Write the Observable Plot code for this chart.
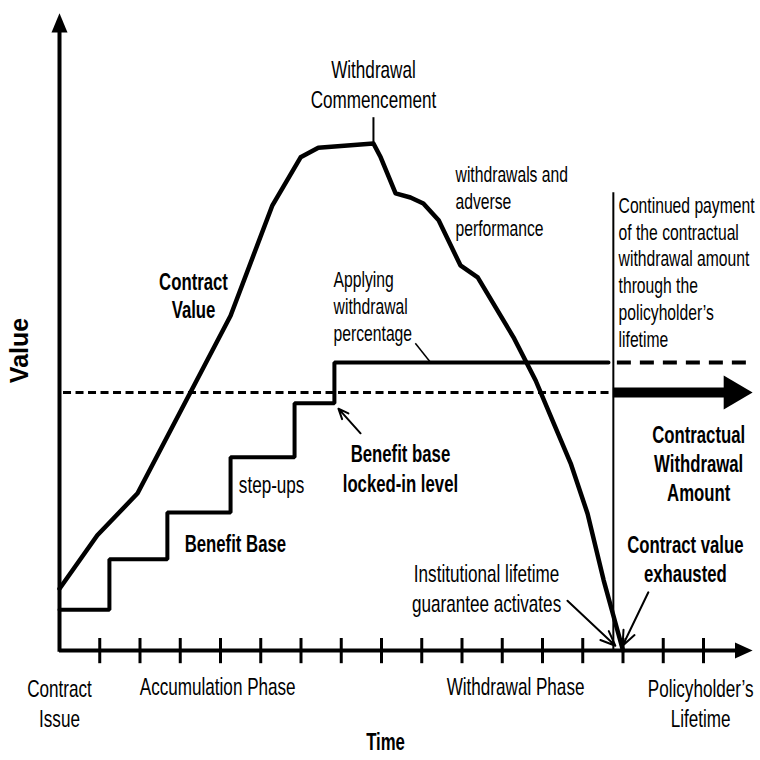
<!DOCTYPE html>
<html><head><meta charset="utf-8">
<script src="https://cdn.jsdelivr.net/npm/d3@7"></script>
<script src="https://cdn.jsdelivr.net/npm/@observablehq/plot@0.6"></script>
<style>html,body{margin:0;padding:0;background:#fff;} #chart{width:760px;height:760px;}</style>
</head><body><div id="chart"></div>
<script>
// Time in tick units (axis origin = 0, tick marks 1..16); Value in arbitrary units (0 = time axis)
const contractT = [0, 0.94, 1.94, 4.25, 5.29, 5.99, 6.43, 7.80, 7.98, 8.35, 8.72, 9.04, 9.42, 9.96, 10.39, 11.28, 11.83, 12.25, 12.70, 13.12, 13.52, 14.0];
const contractV = [10.3, 19.2, 26.2, 55.8, 74.2, 82.2, 83.8, 84.5, 82.2, 76.2, 75.5, 74.5, 71.7, 64.2, 62.2, 52.2, 45.0, 38.3, 31.2, 22.8, 11.7, 0];
const baseT = [0, 1.24, 2.68, 4.25, 5.84, 6.83, 13.64];
const baseV = [6.8, 15.2, 23.0, 32.2, 41.2, 48.0, 48.0];
const tickT = [1, 2, 3, 4, 5, 6, 7, 8, 9, 10, 11, 12, 13, 14, 15, 16];
const lockedLevel = 48;          // benefit base locked-in level
const cwaLevel = 43;             // contractual withdrawal amount
const commencementT = 7.8;       // withdrawal commencement
const lifetimeT = 13.76;         // start of lifetime payments
const axisEndT = 17.22, axisTopV = 106.2;

const regularCentered = [
  {text: "Withdrawal\nCommencement", t: 7.8, v: 94.5},
  {text: "Contract\nIssue", t: 0, v: -8.7},
  {text: "Policyholder’s\nLifetime", t: 15.93, v: -8.7},
  {text: "Institutional lifetime\nguarantee activates", t: 10.61, v: 10.5}
];
const regularSingle = [
  {text: "Accumulation Phase", t: 3.93, v: -6.2},
  {text: "Withdrawal Phase", t: 11.33, v: -6.2},
  {text: "step-ups", t: 5.27, v: 27.5}
];
const regularLeft = [
  {text: "withdrawals and\nadverse\nperformance", t: 9.84, v: 75},
  {text: "Applying\nwithdrawal\npercentage", t: 6.81, v: 57.5},
  {text: "Continued payment\nof the contractual\nwithdrawal amount\nthrough the\npolicyholder’s\nlifetime", t: 13.89, v: 63.2}
];
const boldCentered = [
  {text: "Contract\nValue", t: 3.33, v: 59.3},
  {text: "Benefit Base", t: 4.37, v: 18},
  {text: "Contractual\nWithdrawal\nAmount", t: 15.88, v: 31.3},
  {text: "Contract value\nexhausted", t: 15.55, v: 15.4},
  {text: "Time", t: 8.1, v: -15}
];
const boldLocked = [{text: "Benefit base\nlocked-in level", t: 8.47, v: 30.5}];
const pointerArrows = [
  {t1: 7.48, v1: 36.2, t2: 6.93, v2: 40.3},
  {t1: 12.62, v1: 8.3, t2: 13.81, v2: 0.8},
  {t1: 14.63, v1: 9.7, t2: 13.99, v2: 0.8}
];
const pointerLine = [{t1: 8.84, v1: 51.2, t2: 9.22, v2: 48}];

const contract = contractT.map((t, i) => ({t, v: contractV[i]}));
const base = baseT.map((t, i) => ({t, v: baseV[i]}));

const sans = "'Liberation Sans', Arial, Helvetica, sans-serif";
function headSymbol(ratio) {
  return {draw(ctx, size) {
    const r = Math.sqrt(size / Math.PI);
    ctx.moveTo(0, 0); ctx.lineTo(-ratio * r, -r); ctx.lineTo(-ratio * r, r); ctx.closePath();
  }};
}

const chart = Plot.plot({
  width: 760, height: 760, margin: 0,
  x: {domain: [0, 16], range: [59, 703], axis: null},
  y: {domain: [0, 100], range: [650, 50], axis: null},
  style: {background: "white", overflow: "visible"},
  marks: [
    Plot.ruleY([cwaLevel], {x1: 0.1, x2: 13.69, strokeWidth: 3, strokeDasharray: "8,4.5"}),
    Plot.ruleY([lockedLevel], {x1: 13.86, x2: 17.17, strokeWidth: 4, strokeDasharray: "14,9"}),
    Plot.ruleY([cwaLevel], {x1: lifetimeT, x2: 16.7, strokeWidth: 10}),
    Plot.dot([{t: axisEndT, v: cwaLevel}], {x: "t", y: "v", symbol: headSymbol(1.7), r: 17, fill: "black", stroke: null}),
    Plot.ruleX([lifetimeT], {y1: 0, y2: 76.3, strokeWidth: 2}),
    Plot.ruleX([commencementT], {y1: 84.5, y2: 88.8, strokeWidth: 2}),
    Plot.line(base, {x: "t", y: "v", curve: "step-after", strokeWidth: 4, strokeLinejoin: "miter"}),
    Plot.line(contract, {x: "t", y: "v", strokeWidth: 4.5, strokeLinejoin: "round"}),
    Plot.link(pointerLine, {x1: "t1", y1: "v1", x2: "t2", y2: "v2", strokeWidth: 1.5}),
    Plot.arrow(pointerArrows, {x1: "t1", y1: "v1", x2: "t2", y2: "v2", strokeWidth: 2, headLength: 12, headAngle: 45}),
    Plot.ruleX([0], {y1: -0.3, y2: 103, strokeWidth: 4}),
    Plot.ruleY([0], {x1: 0, x2: 17.0, strokeWidth: 4}),
    Plot.ruleX(tickT, {y1: -2.2, y2: 2, strokeWidth: 3}),
    Plot.dot([{t: 0, v: axisTopV}], {x: "t", y: "v", symbol: headSymbol(2.4), r: 8, rotate: -90, fill: "black", stroke: null}),
    Plot.dot([{t: axisEndT, v: 0}], {x: "t", y: "v", symbol: headSymbol(2.2), r: 8, fill: "black", stroke: null}),
    Plot.text(regularCentered, {x: "t", y: "v", text: "text", fontFamily: sans, fontSize: 24, lineHeight: 1.25, fill: "black"}),
    Plot.text(regularSingle, {x: "t", y: "v", text: "text", fontFamily: sans, fontSize: 24, fill: "black"}),
    Plot.text(regularLeft, {x: "t", y: "v", text: "text", fontFamily: sans, fontSize: 22, lineHeight: 1.22, textAnchor: "start", fill: "black"}),
    Plot.text(boldCentered, {x: "t", y: "v", text: "text", fontFamily: sans, fontSize: 23.5, fontWeight: "bold", lineHeight: 1.22, fill: "black"}),
    Plot.text(boldLocked, {x: "t", y: "v", text: "text", fontFamily: sans, fontSize: 23.5, fontWeight: "bold", lineHeight: 1.28, fill: "black"}),
    Plot.text([{text: "Value", t: -0.97, v: 50}], {x: "t", y: "v", text: "text", rotate: -90, fontFamily: sans, fontSize: 25, fontWeight: "bold", fill: "black"})
  ]
});
// condensed lettering like the reference (horizontal labels only)
chart.querySelectorAll('g[aria-label="text"] text').forEach(el => {
  const tr = el.getAttribute("transform") || "";
  if (!tr.includes("rotate")) el.setAttribute("transform", tr + " scale(0.713,1)");
});
document.getElementById("chart").appendChild(chart);
</script>
</body></html>
